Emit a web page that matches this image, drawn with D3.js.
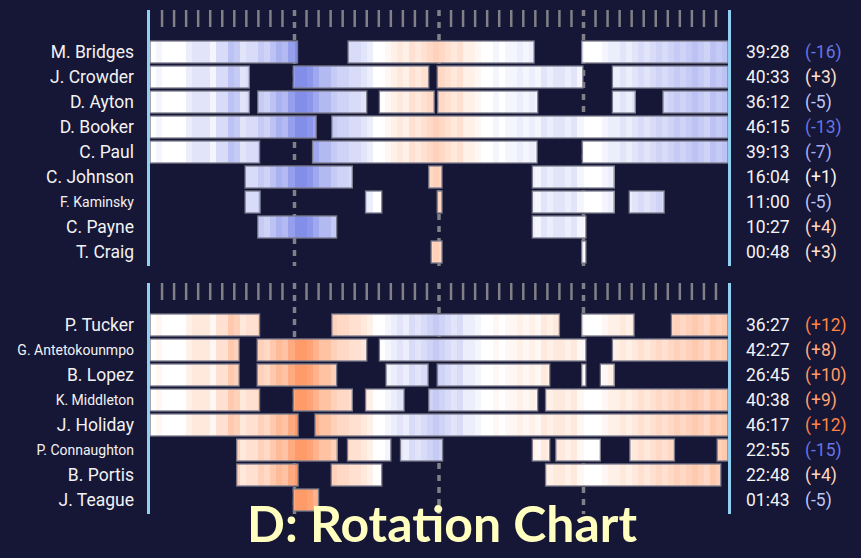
<!DOCTYPE html>
<html><head><meta charset="utf-8">
<script src="https://cdn.jsdelivr.net/npm/d3@7"></script>
<style>html,body{margin:0;padding:0;background:#161637;}svg{display:block}</style>
</head><body><svg id="c" width="861" height="558"></svg>
<script>
// Score margin (top team perspective), one value per half minute of game time
const segMinutes = 0.5;
const marginTop = [
  0,-1,0,0,0,0,-2,-3,-3,-3,
  -1,-4,-4,-7,-6,-3,-4,-4,-6,-5,
  -7,-9,-8,-11,-13,-13,-12,-10,-8,-8,
  -6,-5,-5,-4,-4,-3,-2,0,0,1,
  2,3,2,4,3,4,5,6,5,4,
  3,4,2,2,1,0,0,-1,0,-1,
  -1,-2,-1,-2,-1,-3,-2,-3,-3,-2,
  -3,-1,0,0,0,-1,-2,-2,-3,-2,
  -3,-4,-3,-4,-5,-4,-5,-6,-5,-6,
  -7,-6,-5,-7,-6,-7
];

const topNames = ["M. Bridges","J. Crowder","D. Ayton","D. Booker","C. Paul","C. Johnson","F. Kaminsky","C. Payne","T. Craig"];
const topStints = [
  [[0,12.25],[16.45,31.9],[35.85,48]],
  [[0,8.25],[11.9,23.15],[23.85,35.95],[38.4,48]],
  [[0,8.25],[8.95,18.0],[19.05,23.6],[23.9,32.2],[38.4,40.3],[42.6,48]],
  [[0,13.8],[15.1,48]],
  [[0,9.1],[13.5,32.15],[35.9,48]],
  [[7.9,16.8],[23.15,24.25],[31.75,38.55]],
  [[7.9,9.15],[17.9,19.25],[23.85,24.25],[31.75,38.55],[39.8,42.7]],
  [[8.95,15.5],[31.75,36.2]],
  [[23.35,24.25],[35.85,36.2]]
];
const topTimes = ["39:28","40:33","36:12","46:15","39:13","16:04","11:00","10:27","00:48"];
const topPlusMinus = [-16,3,-5,-13,-7,1,-5,4,3];

const bottomNames = ["P. Tucker","G. Antetokounmpo","B. Lopez","K. Middleton","J. Holiday","P. Connaughton","B. Portis","J. Teague"];
const bottomStints = [
  [[0,9.1],[15.1,34.0],[35.85,40.2],[43.3,48]],
  [[0,7.4],[8.9,18.0],[19.05,36.2],[38.4,48]],
  [[0,7.4],[8.9,15.5],[19.6,23.1],[23.85,33.2],[35.85,36.2],[37.4,38.55]],
  [[0,9.1],[11.9,16.8],[17.9,21.1],[23.15,32.2],[32.85,48]],
  [[0,12.3],[13.7,48]],
  [[7.2,15.55],[16.4,20.0],[20.8,24.3],[31.75,33.2],[33.7,37.4],[39.85,43.55],[47.1,48]],
  [[7.2,12.3],[15.05,19.25],[32.85,47.4]],
  [[11.9,14.0]]
];
const bottomTimes = ["36:27","42:27","26:45","40:38","46:17","22:55","22:48","01:43"];
const bottomPlusMinus = [12,8,10,9,12,-15,4,-5];

const quarterMinutes = [12,24,36];
const tickMinutes = d3.range(1,48).filter(m => !quarterMinutes.includes(m));
const titleText = "D: Rotation Chart";

const svg = d3.select("#c");
const x = d3.scaleLinear().domain([0,48]).range([150,728]);
const barColor = d3.scaleLinear().domain([-16,0,16]).range(["#6674e4","#ffffff","#ff8446"]).clamp(true);
const textColor = d3.scaleLinear().domain([-12,0,12]).range(["#6674e4","#ffffff","#ff8446"]).clamp(true);

function panel(top, names, stints, times, pm, sign) {
  const g = svg.append("g").attr("transform", `translate(0,${top})`);
  const n = names.length;
  const y = d3.scaleBand().domain(names).range([31, 31 + 25*n]);
  const bottom = 31 + 25*n;

  g.selectAll("line.q").data(quarterMinutes).join("line")
    .attr("x1", d => x(d)).attr("x2", d => x(d))
    .attr("y1", 0).attr("y2", bottom)
    .attr("stroke", "#808086").attr("stroke-width", 3.5)
    .attr("stroke-dasharray", "6,6");
  g.selectAll("line.t").data(tickMinutes).join("line")
    .attr("x1", d => x(d)).attr("x2", d => x(d))
    .attr("y1", 0).attr("y2", 17)
    .attr("stroke", "#808086").attr("stroke-width", 2.5);

  names.forEach((name, r) => {
    const y0 = y(name), h = y.bandwidth() - 3;
    const row = g.append("g");
    stints[r].forEach(([s, e]) => {
      const segs = [];
      marginTop.forEach((m, i) => {
        const a = Math.max(s, i*segMinutes), b = Math.min(e, (i+1)*segMinutes);
        if (b > a) segs.push({a, b, m: sign*m});
      });
      row.selectAll(null).data(segs).join("rect")
        .attr("x", d => x(d.a)).attr("width", d => x(d.b) - x(d.a) + 0.3)
        .attr("y", y0).attr("height", h)
        .attr("fill", d => barColor(d.m))
        .attr("shape-rendering", "crispEdges");
      row.append("rect")
        .attr("x", x(s)).attr("width", x(e) - x(s))
        .attr("y", y0).attr("height", h)
        .attr("fill", "none").attr("stroke", "#7a7a8a").attr("stroke-width", 1.3);
    });
    const cy = y0 + h/2;
    g.append("text").text(name)
      .attr("x", 134).attr("y", cy + (name.length > 10 ? 4.5 : 5.5))
      .attr("text-anchor", "end")
      .attr("font-family", "Roboto").attr("font-size", name.length > 10 ? 14 : 17.5)
      .attr("fill", "#f2f2f2");
    g.append("text").text(times[r])
      .attr("x", 746).attr("y", cy + 5.5)
      .attr("font-family", "Roboto").attr("font-size", 17.5)
      .attr("fill", "#f2f2f2");
    g.append("text").text(`(${pm[r] > 0 ? "+" : ""}${pm[r]})`)
      .attr("x", 805).attr("y", cy + 5.5)
      .attr("font-family", "Roboto").attr("font-size", 17.5)
      .attr("fill", textColor(pm[r]));
  });

  g.selectAll("line.side").data([0,48]).join("line")
    .attr("x1", (d,i) => x(d) + (i ? 1.5 : -1.5)).attr("x2", (d,i) => x(d) + (i ? 1.5 : -1.5))
    .attr("y1", 0).attr("y2", bottom)
    .attr("stroke", "#8fd0f2").attr("stroke-width", 3);
}

panel(10, topNames, topStints, topTimes, topPlusMinus, 1);
panel(283, bottomNames, bottomStints, bottomTimes, bottomPlusMinus, -1);

const t = svg.append("text").text(titleText)
  .attr("x", (x(0) + x(48))/2 + 3).attr("y", 541.5)
  .attr("text-anchor", "middle")
  .attr("font-family", "Lato").attr("font-weight", "bold")
  .attr("font-size", 100).attr("fill", "#ffffbf");
const w = t.node().getComputedTextLength();
t.attr("font-size", 100 * 390 / w);
</script></body></html>
